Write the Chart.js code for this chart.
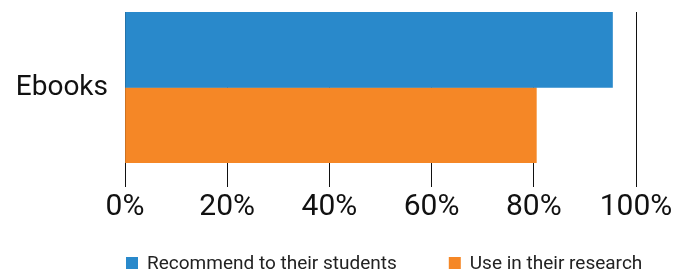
<!DOCTYPE html>
<html lang="en">
<head>
    <meta charset="UTF-8">
    <title>Ebooks</title>
    <script src="https://cdn.jsdelivr.net/npm/chart.js"></script>
    <style>
        html, body { margin: 0; padding: 0; background: #fff; }
        #box { width: 686px; height: 274px; }
    </style>
</head>
<body>
    <div id="box"><canvas id="grafico"></canvas></div>

<script>
    // dados
    const categorias = ['Ebooks'];
    const nomesSeries = ['Recommend to their students', 'Use in their research'];
    const recomendam = [95.4];
    const usamPesquisa = [80.5];
    const ticksX = [0, 20, 40, 60, 80, 100];

    const azul = '#2989cb';
    const laranja = '#f58726';

    // legenda desenhada embaixo, alinhada com a area do grafico
    const legendaBaixo = {
        id: 'legendaBaixo',
        afterDraw(chart) {
            const c = chart.ctx;
            const area = chart.chartArea;
            c.save();
            c.font = '19px Roboto';
            c.textBaseline = 'middle';
            let x = area.left + 1;
            const y = 263;
            chart.data.datasets.forEach(ds => {
                c.fillStyle = ds.backgroundColor;
                c.fillRect(x, y - 6, 12, 12);
                c.fillStyle = '#222';
                c.fillText(ds.label, x + 21, y + 1);
                x += 21 + c.measureText(ds.label).width + 52;
            });
            c.restore();
        }
    };

    const ctx = document.getElementById('grafico');

    new Chart(ctx, {
        type: 'bar',
        data: {
            labels: categorias,
            datasets: [{
                label: nomesSeries[0],
                data: recomendam,
                backgroundColor: azul,
                categoryPercentage: 1,
                barPercentage: 1
            }, {
                label: nomesSeries[1],
                data: usamPesquisa,
                backgroundColor: laranja,
                categoryPercentage: 1,
                barPercentage: 1
            }]
        },
        options: {
            indexAxis: 'y',
            responsive: true,
            maintainAspectRatio: false,
            animation: false,
            layout: { padding: { top: 12, right: 50, left: 0, bottom: 43 } },
            plugins: {
                legend: { display: false },
                tooltip: { enabled: false }
            },
            scales: {
                x: {
                    min: 0,
                    max: 100,
                    afterBuildTicks: (s) => { s.ticks = ticksX.map(v => ({ value: v })); },
                    grid: { color: '#111', lineWidth: 1, tickLength: 24, drawOnChartArea: true },
                    border: { display: false },
                    ticks: {
                        color: '#111',
                        padding: 2,
                        maxRotation: 0,
                        font: { family: 'Roboto', size: 30 },
                        callback: (v) => v + '%'
                    },
                    afterFit: (s) => { s.height = 68; }
                },
                y: {
                    grid: { display: false, drawTicks: false },
                    border: { display: false },
                    ticks: {
                        color: '#111',
                        padding: 17,
                        font: { family: 'Roboto', size: 28 }
                    },
                    afterFit: (s) => {
                        s.width = 125;
                        s.paddingTop = 0;
                        s.paddingBottom = 0;
                    }
                }
            }
        },
        plugins: [legendaBaixo]
    });
</script>
</body>
</html>
